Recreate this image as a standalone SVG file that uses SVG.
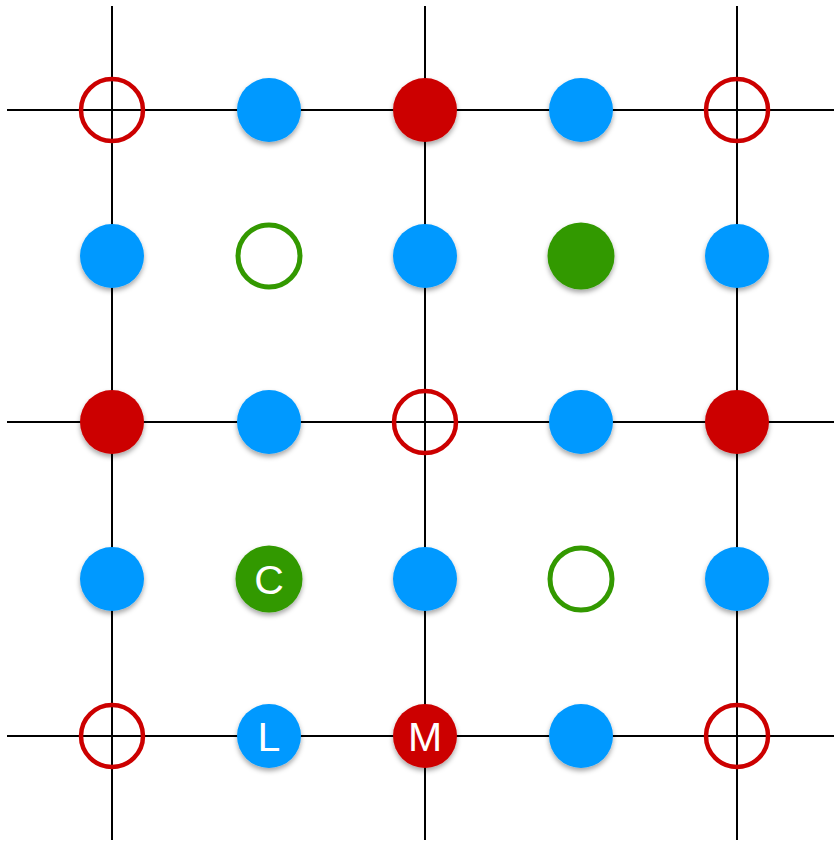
<svg xmlns="http://www.w3.org/2000/svg" width="834" height="842" viewBox="0 0 834 842">
<defs>
<filter id="sh" x="-30%" y="-30%" width="160%" height="170%">
<feDropShadow dx="0" dy="3" stdDeviation="2.5" flood-color="#000" flood-opacity="0.35"/>
</filter>
<style>
.ln{stroke:#000;stroke-width:2;fill:none}
.b{fill:#0099FF;filter:url(#sh)}
.r{fill:#CC0000;filter:url(#sh)}
.g{fill:#339900;filter:url(#sh)}
.ro{fill:none;stroke:#CC0000;stroke-width:4.5}
.go{fill:none;stroke:#339900;stroke-width:5}
.t{fill:#fff;font-family:"Liberation Sans",Arial,sans-serif;font-size:41px;text-anchor:middle}
</style>
</defs>
<rect width="834" height="842" fill="#fff"/>
<g id="connectors">
<line class="ln" x1="112" y1="6" x2="112" y2="840"/>
<line class="ln" x1="425" y1="6" x2="425" y2="840"/>
<line class="ln" x1="737" y1="6" x2="737" y2="840"/>
<line class="ln" x1="7" y1="110" x2="834" y2="110"/>
<line class="ln" x1="7" y1="422" x2="834" y2="422"/>
<line class="ln" x1="7" y1="736" x2="834" y2="736"/>
</g>
<g id="n11"><circle class="ro" cx="112" cy="110" r="31"/></g>
<g id="n12"><circle class="b" cx="269" cy="110" r="32"/></g>
<g id="n13"><circle class="r" cx="425" cy="110" r="32"/></g>
<g id="n14"><circle class="b" cx="581" cy="110" r="32"/></g>
<g id="n15"><circle class="ro" cx="737" cy="110" r="31"/></g>
<g id="n21"><circle class="b" cx="112" cy="256" r="32"/></g>
<g id="n22"><circle class="go" cx="269" cy="256" r="31"/></g>
<g id="n23"><circle class="b" cx="425" cy="256" r="32"/></g>
<g id="n24"><circle class="g" cx="581" cy="256" r="33.5"/></g>
<g id="n25"><circle class="b" cx="737" cy="256" r="32"/></g>
<g id="n31"><circle class="r" cx="112" cy="422" r="32"/></g>
<g id="n32"><circle class="b" cx="269" cy="422" r="32"/></g>
<g id="n33"><circle class="ro" cx="425" cy="422" r="31"/></g>
<g id="n34"><circle class="b" cx="581" cy="422" r="32"/></g>
<g id="n35"><circle class="r" cx="737" cy="422" r="32"/></g>
<g id="n41"><circle class="b" cx="112" cy="579" r="32"/></g>
<g id="n42"><circle class="g" cx="269" cy="579" r="33.5"/><text class="t" x="269" y="594">C</text></g>
<g id="n43"><circle class="b" cx="425" cy="579" r="32"/></g>
<g id="n44"><circle class="go" cx="581" cy="579" r="31"/></g>
<g id="n45"><circle class="b" cx="737" cy="579" r="32"/></g>
<g id="n51"><circle class="ro" cx="112" cy="736" r="31"/></g>
<g id="n52"><circle class="b" cx="269" cy="736" r="32"/><text class="t" x="269" y="751">L</text></g>
<g id="n53"><circle class="r" cx="425" cy="736" r="32"/><text class="t" x="425" y="751">M</text></g>
<g id="n54"><circle class="b" cx="581" cy="736" r="32"/></g>
<g id="n55"><circle class="ro" cx="737" cy="736" r="31"/></g>
</svg>
